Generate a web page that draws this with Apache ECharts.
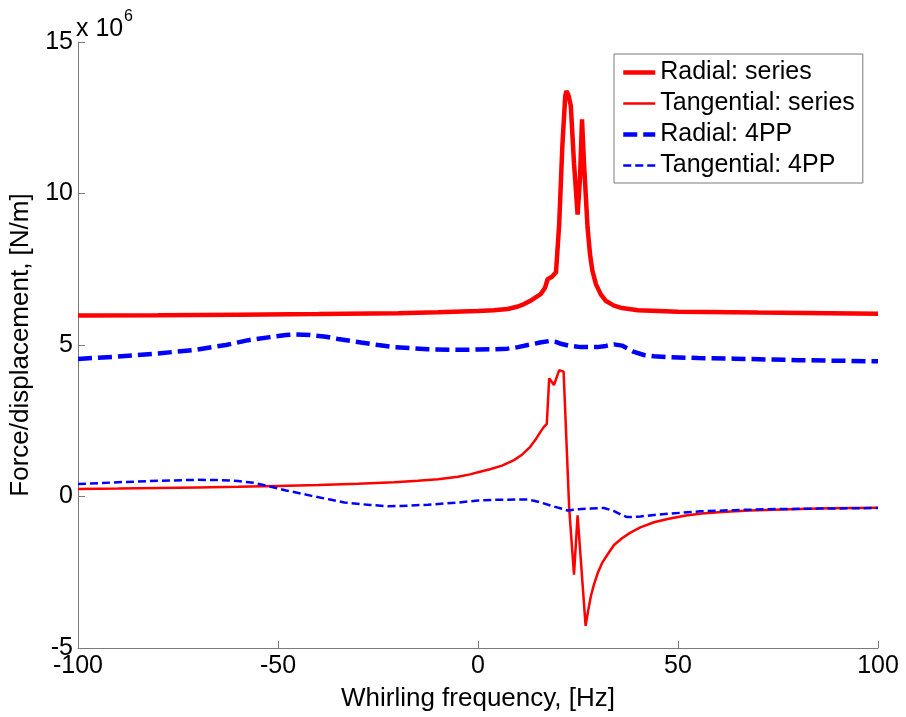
<!DOCTYPE html>
<html>
<head>
<meta charset="utf-8">
<script src="https://cdn.jsdelivr.net/npm/echarts@6/dist/echarts.min.js"></script>
<style>
  html, body { margin: 0; padding: 0; background: #fff; }
  #chart { width: 906px; height: 717px; }
</style>
</head>
<body>
<div id="chart"></div>
<script>
// Whirling frequency [Hz] and force/displacement [x 1e6 N/m] for each curve
const radialSeriesHz = [-100, -80, -60, -40, -20, -10, 0, 4, 7.4, 10, 11.5, 13, 14.5, 15.7, 16.8, 17.4, 18.5, 19.5, 20.3, 21.1, 21.8, 22.1, 22.6, 23.2, 24.0, 24.9, 25.5, 26.0, 26.5, 27.4, 28.0, 28.6, 29.5, 30.7, 32, 34, 36, 40, 50, 70, 100];
const radialSeries = [5.97, 5.98, 6.0, 6.02, 6.05, 6.08, 6.12, 6.15, 6.19, 6.27, 6.35, 6.45, 6.58, 6.68, 6.9, 7.17, 7.25, 7.4, 9.0, 11.6, 13.2, 13.38, 13.25, 12.9, 11.0, 9.3, 10.5, 12.45, 11.0, 8.86, 8.0, 7.45, 7.0, 6.67, 6.45, 6.3, 6.22, 6.15, 6.1, 6.07, 6.03];

const tangentialSeriesHz = [-100, -90, -80, -70, -60, -50, -40, -30, -21, -15, -10, -5, -2, 0, 3, 6, 9, 11, 13, 14.5, 15.7, 16.5, 17.2, 17.8, 19.0, 20.3, 21.4, 22.8, 24.0, 24.9, 26.9, 27.5, 28.2, 29, 30, 31, 32.3, 34, 36, 38, 40.6, 44, 47.4, 52, 56, 62, 68, 78, 88, 100];
const tangentialSeries = [0.25, 0.26, 0.28, 0.3, 0.32, 0.35, 0.38, 0.42, 0.47, 0.52, 0.57, 0.65, 0.73, 0.8, 0.9, 1.02, 1.2, 1.38, 1.63, 1.9, 2.15, 2.3, 2.4, 3.9, 3.68, 4.17, 4.12, -0.4, -2.58, -0.62, -4.27, -3.8, -3.3, -2.9, -2.5, -2.2, -1.93, -1.6, -1.38, -1.2, -1.02, -0.85, -0.74, -0.63, -0.56, -0.5, -0.46, -0.42, -0.39, -0.37];

const radial4ppHz = [-100, -90, -80, -70.8, -63, -57.4, -52, -48, -45.8, -42, -38, -35, -29.2, -25, -20.9, -12.5, -5, 0, 4, 7.4, 10, 13.2, 15.5, 17.8, 19.5, 20.7, 23, 25.7, 29.8, 32, 34, 36, 37.5, 39, 41.5, 44, 47.4, 55, 64, 80, 100];
const radial4pp = [4.54, 4.62, 4.72, 4.84, 5.0, 5.16, 5.26, 5.33, 5.35, 5.33, 5.27, 5.2, 5.08, 5.0, 4.93, 4.86, 4.84, 4.85, 4.86, 4.88, 4.93, 5.02, 5.08, 5.13, 5.1, 5.04, 4.97, 4.93, 4.93, 4.97, 5.02, 4.98, 4.88, 4.77, 4.67, 4.63, 4.6, 4.57, 4.55, 4.5, 4.46];

const tangential4ppHz = [-100, -90, -80, -70, -64, -60, -56, -52, -48, -44, -41.6, -37, -33.4, -27, -22.5, -17, -12.5, -5, 0, 4, 7.4, 10, 12.4, 14, 15.7, 19, 22.4, 25, 28.2, 31.5, 34, 35.5, 37.3, 40.6, 44, 47.4, 55.6, 64, 72, 85, 100];
const tangential4pp = [0.41, 0.47, 0.52, 0.55, 0.54, 0.51, 0.45, 0.33, 0.2, 0.09, 0.02, -0.1, -0.2, -0.28, -0.32, -0.3, -0.27, -0.2, -0.13, -0.11, -0.11, -0.1, -0.1, -0.14, -0.2, -0.33, -0.46, -0.42, -0.4, -0.38, -0.48, -0.58, -0.68, -0.66, -0.61, -0.57, -0.49, -0.45, -0.42, -0.4, -0.38];

const xTicks = { min: -100, max: 100, step: 50 };
const yTicks = { min: -5, max: 15, step: 5 };

const pairs = (xs, ys) => xs.map((x, i) => [x, ys[i]]);

const FONT = 'Liberation Sans, Arial, sans-serif';
const AXIS_GRAY = '#7a7a7a';

const chart = echarts.init(document.getElementById('chart'), null, { renderer: 'canvas' });

chart.setOption({
  animation: false,
  backgroundColor: '#ffffff',
  grid: { left: 76, right: 28, top: 42, bottom: 63, containLabel: false },
  xAxis: {
    type: 'value',
    min: xTicks.min, max: xTicks.max, interval: xTicks.step,
    name: 'Whirling frequency, [Hz]',
    nameLocation: 'middle',
    nameGap: 38,
    nameTextStyle: { fontFamily: FONT, fontSize: 26, color: '#000' },
    axisLine: { show: true, onZero: false, lineStyle: { color: AXIS_GRAY, width: 1 } },
    axisTick: { show: true, inside: true, length: 7, lineStyle: { color: AXIS_GRAY } },
    axisLabel: { fontFamily: FONT, fontSize: 25, color: '#000', margin: 6 },
    splitLine: { show: false }
  },
  yAxis: {
    type: 'value',
    min: yTicks.min, max: yTicks.max, interval: yTicks.step,
    name: 'Force/displacement, [N/m]',
    nameLocation: 'middle',
    nameGap: 44,
    nameRotate: 90,
    nameTextStyle: { fontFamily: FONT, fontSize: 26, color: '#000' },
    axisLine: { show: true, onZero: false, lineStyle: { color: AXIS_GRAY, width: 1 } },
    axisTick: { show: true, inside: true, length: 7, lineStyle: { color: AXIS_GRAY } },
    axisLabel: { fontFamily: FONT, fontSize: 25, color: '#000', margin: 5 },
    splitLine: { show: false }
  },
  legend: {
    orient: 'vertical',
    left: 614,
    top: 54,
    padding: [6, 8, 5, 7],
    itemGap: 6,
    itemWidth: 32,
    itemHeight: 14,
    backgroundColor: '#ffffff',
    borderColor: AXIS_GRAY,
    borderWidth: 1,
    // line-only keys: hide the marker, keep the series' own line width and dash
    itemStyle: { opacity: 0 },
    lineStyle: { width: 'inherit', type: 'inherit' },
    textStyle: { fontFamily: FONT, fontSize: 25, color: '#000' },
    data: ['Radial: series', 'Tangential: series', 'Radial: 4PP', 'Tangential: 4PP']
  },
  graphic: [
    { type: 'text', left: 76, top: 17, style: { text: 'x 10', font: '25px ' + FONT, fill: '#000' } },
    { type: 'text', left: 124, top: 9, style: { text: '6', font: '16px ' + FONT, fill: '#000' } }
  ],
  series: [
    {
      name: 'Radial: series', type: 'line', symbol: 'none',
      data: pairs(radialSeriesHz, radialSeries),
      lineStyle: { color: '#ff0000', width: 4.5 }, itemStyle: { color: '#ff0000' }
    },
    {
      name: 'Tangential: series', type: 'line', symbol: 'none',
      data: pairs(tangentialSeriesHz, tangentialSeries),
      lineStyle: { color: '#ff0000', width: 2.5 }, itemStyle: { color: '#ff0000' }
    },
    {
      name: 'Radial: 4PP', type: 'line', symbol: 'none',
      data: pairs(radial4ppHz, radial4pp),
      lineStyle: { color: '#0000ff', width: 4.5, type: [14, 6] }, itemStyle: { color: '#0000ff' }
    },
    {
      name: 'Tangential: 4PP', type: 'line', symbol: 'none',
      data: pairs(tangential4ppHz, tangential4pp),
      lineStyle: { color: '#0000ff', width: 2.5, type: [8, 4] }, itemStyle: { color: '#0000ff' }
    }
  ]
});
</script>
</body>
</html>
